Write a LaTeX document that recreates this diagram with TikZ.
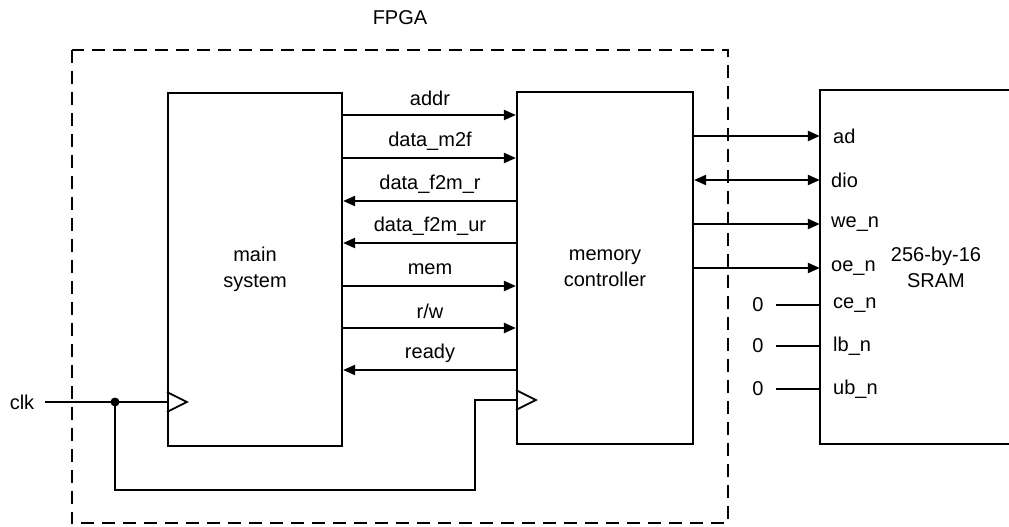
\documentclass[tikz,border=0pt]{standalone}
\usepackage{fontspec}
\setmainfont{Liberation Sans}
\usetikzlibrary{arrows.meta,calc}
\begin{document}
\begin{tikzpicture}[x=1pt,y=-1pt,
  box/.style={draw, line width=2.2pt, inner sep=0pt, align=center, font=\fontsize{20}{26}\selectfont},
  wire/.style={line width=2.2pt},
  sig/.style={wire, -{Triangle[length=12pt,width=10pt]}},
  bisig/.style={wire, {Triangle[length=12pt,width=10pt]}-{Triangle[length=12pt,width=10pt]}},
  lbl/.style={font=\fontsize{20}{24}\selectfont, inner sep=0pt},
  pin/.style={lbl, anchor=west},
  fpga/.style={draw, line width=2pt, dash pattern=on 13pt off 8pt}
]
\useasboundingbox (0,0) rectangle (1009,527);
% FPGA boundary
\node[draw=none, minimum width=656pt, minimum height=473pt, inner sep=0pt] (fpgabox) at (400,286.5) {};
\draw[fpga] (fpgabox.north west) rectangle (fpgabox.south east);
\node[lbl] (fpgalbl) at (400,18) {FPGA};
% blocks
\node[box, minimum width=174pt, minimum height=353pt] (main) at (255,269.5) {main\\system};
\node[box, minimum width=176pt, minimum height=352pt] (mc) at (605,268) {memory\\controller};
\node[minimum width=189pt, minimum height=354pt, inner sep=0pt] (sram) at (914.5,267) {};
\draw[wire] (sram.north east) -- (sram.north west) -- (sram.south west) -- (sram.south east);
\node[lbl, align=center, font=\fontsize{20}{26}\selectfont] (sramlbl) at (936,267) {256-by-16\\SRAM};
% main <-> memory controller signals
\foreach \y/\t in {115/{addr}, 158/{data\_m2f}, 201/{data\_f2m\_r}, 243/{data\_f2m\_ur}, 286/{mem}, 328/{r/w}, 370/{ready}}{
  \node[lbl] at (430,\y-17) {\t};
}
\draw[sig] (main.east |- 0,115) -- (mc.west |- 0,115);
\draw[sig] (main.east |- 0,158) -- (mc.west |- 0,158);
\draw[sig] (mc.west |- 0,201) -- (main.east |- 0,201);
\draw[sig] (mc.west |- 0,243) -- (main.east |- 0,243);
\draw[sig] (main.east |- 0,286) -- (mc.west |- 0,286);
\draw[sig] (main.east |- 0,328) -- (mc.west |- 0,328);
\draw[sig] (mc.west |- 0,370) -- (main.east |- 0,370);
% memory controller -> SRAM
\draw[sig] (mc.east |- 0,136) -- (sram.west |- 0,136);
\draw[bisig] (mc.east |- 0,180) -- (sram.west |- 0,180);
\draw[sig] (mc.east |- 0,224) -- (sram.west |- 0,224);
\draw[sig] (mc.east |- 0,268) -- (sram.west |- 0,268);
\node[pin] (pad) at (833,136) {ad};
\node[pin] (pdio) at (831,180) {dio};
\node[pin] (pwe) at (831,224) {we\_n};
\node[pin] (poe) at (831,268) {oe\_n};
\node[pin] (pce) at (833,305) {ce\_n};
\node[pin] (plb) at (833,346) {lb\_n};
\node[pin] (pub) at (833,389) {ub\_n};
% tied-low inputs
\foreach \y/\n in {305/ce, 346/lb, 389/ub}{
  \node[lbl] (z\n) at (758,\y) {0};
  \coordinate (c\n) at (776,\y);
  \draw[wire] (c\n) -- (sram.west |- c\n);
}
% clock
\node[lbl] (clk) at (22,402) {clk};
\coordinate (clkin) at (45,402);
\coordinate (clkdot) at (115,402);
\coordinate (clkb1) at (115,490);
\coordinate (clkb2) at (475,490);
\coordinate (clkb3) at (475,400);
\draw[wire] (clkin) -- (main.west |- clkin);
\fill (clkdot) circle (4.5pt);
\draw[wire] (clkdot) -- (clkb1) -- (clkb2) -- (clkb3) -- (mc.west |- clkb3);
\draw[line width=1.8pt] ($(main.west |- clkin)+(0,-10)$) -- ($(main.west |- clkin)+(20,0)$) -- ($(main.west |- clkin)+(0,10)$);
\draw[line width=1.8pt] ($(mc.west |- clkb3)+(0,-10)$) -- ($(mc.west |- clkb3)+(20,0)$) -- ($(mc.west |- clkb3)+(0,10)$);
\end{tikzpicture}
\end{document}
